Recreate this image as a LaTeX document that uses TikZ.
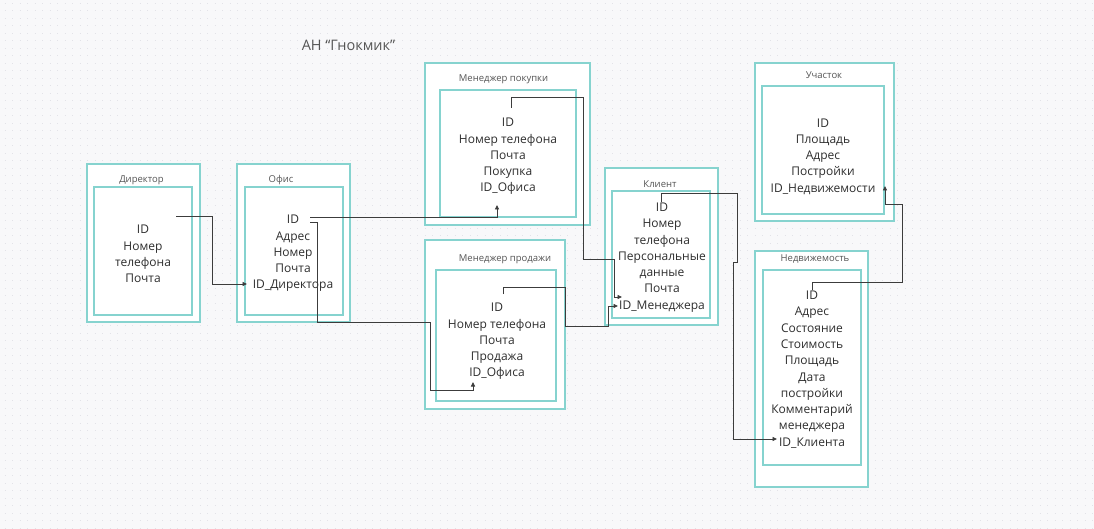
\documentclass[tikz,border=0pt]{standalone}
\usepackage{fontspec}
\setmainfont{Open Sans}
\usetikzlibrary{arrows.meta}
\definecolor{bgc}{HTML}{F8F8FA}
\definecolor{dotc}{HTML}{E2E2E8}
\definecolor{tealc}{HTML}{86D3CF}
\definecolor{linec}{HTML}{3C3C3C}
\definecolor{txtc}{HTML}{2E2E2E}
\definecolor{titc}{HTML}{555555}
\tikzset{
  outerbox/.style={draw=tealc, line width=1.1pt, fill=white, inner sep=0pt},
  innerbox/.style={draw=tealc, line width=1.1pt, fill=white, inner sep=0pt},
  fieldtext/.style={text=txtc, align=center, inner sep=0pt, font=\fontsize{12pt}{16.3pt}\selectfont},
  titletext/.style={text=titc, inner sep=0pt, font=\fontsize{9.5pt}{11pt}\selectfont},
  conn/.style={draw=linec, line width=0.9pt},
  connarr/.style={conn, -{Triangle[length=4.5pt,width=4pt]}},
}
\begin{document}
\begin{tikzpicture}[x=1pt,y=-1pt]
\useasboundingbox (0,0) rectangle (1094,529);
\fill[bgc] (0,0) rectangle (1094,529);
\foreach \yy in {0,...,70}{
  \draw[dotc, line width=1.1pt, dash pattern=on 1.1pt off 6.4pt, dash phase=0pt]
    (4.5,3.3+7.5*\yy) -- (1094,3.3+7.5*\yy);
}
% title
\node[text=titc, inner sep=0pt, font=\fontsize{14.5pt}{16pt}\selectfont] (title) at (348.5,45) {АН “Гнокмик”};

% Директор
\node[outerbox, minimum width=113pt, minimum height=158pt] (dirO) at (143.5,243) {};
\node[innerbox, minimum width=98pt, minimum height=128pt] (dirI) at (143,251) {};
\node[titletext] (dirT) at (141.5,180) {Директор};
\node[fieldtext] (dirF) at (143,254) {ID\\Номер\\телефона\\Почта};

% Офис
\node[outerbox, minimum width=113pt, minimum height=158pt] (ofO) at (293.5,243) {};
\node[innerbox, minimum width=98pt, minimum height=128pt] (ofI) at (294,251) {};
\node[titletext] (ofT) at (281,180) {Офис};
\node[fieldtext] (ofF) at (293,253.5) {ID\\Адрес\\Номер\\Почта\\ID\_Директора};

% Менеджер покупки
\node[outerbox, minimum width=165pt, minimum height=162pt] (mpO) at (507.5,144) {};
\node[innerbox, minimum width=136pt, minimum height=127pt] (mpI) at (508,153.5) {};
\node[titletext] (mpT) at (503.5,79) {Менеджер покупки};
\node[fieldtext] (mpF) at (508,156.5) {ID\\Номер телефона\\Почта\\Покупка\\ID\_Офиса};

% Менеджер продажи
\node[outerbox, minimum width=140pt, minimum height=169pt] (mprO) at (495,324.5) {};
\node[innerbox, minimum width=120pt, minimum height=131pt] (mprI) at (496,335.5) {};
\node[titletext] (mprT) at (505,259) {Менеджер продажи};
\node[fieldtext] (mprF) at (497,341.5) {ID\\Номер телефона\\Почта\\Продажа\\ID\_Офиса};

% Клиент
\node[outerbox, minimum width=113pt, minimum height=157pt] (kO) at (661.5,246.5) {};
\node[innerbox, minimum width=98pt, minimum height=127pt] (kI) at (661,254.5) {};
\node[titletext] (kT) at (660,184) {Клиент};
\node[fieldtext] (kF) at (662,257.5) {ID\\Номер\\телефона\\Персональные\\данные\\Почта\\ID\_Менеджера};

% Участок
\node[outerbox, minimum width=139pt, minimum height=158pt] (uO) at (824.5,142) {};
\node[innerbox, minimum width=122pt, minimum height=128pt] (uI) at (823,150) {};
\node[titletext] (uT) at (824,75) {Участок};
\node[fieldtext] (uF) at (823,156.5) {ID\\Площадь\\Адрес\\Постройки\\ID\_Недвижемости};

% Недвижемость
\node[outerbox, minimum width=113pt, minimum height=236pt] (nO) at (811.5,369) {};
\node[innerbox, minimum width=98pt, minimum height=195pt] (nI) at (812,367.5) {};
\node[titletext] (nT) at (815,258.5) {Недвижемость};
\node[fieldtext] (nF) at (812,369.5) {ID\\Адрес\\Состояние\\Стоимость\\Площадь\\Дата\\постройки\\Комментарий\\менеджера\\ID\_Клиента};

% connector end points
\coordinate (dirID) at (176,216);
\coordinate (ofDir) at (247,284);
\coordinate (ofID1) at (310,217);
\coordinate (ofID2) at (310,222);
\coordinate (mpOf) at (497,205);
\coordinate (mprOf) at (473,382);
\coordinate (mpID) at (511,108);
\coordinate (mprID) at (503,294);
\coordinate (kMgr1) at (622,297);
\coordinate (kMgr2) at (618,306);
\coordinate (kID) at (661,202);
\coordinate (nKl) at (777,439);
\coordinate (nID) at (812,290);
\coordinate (uNed) at (885,186);

% connectors
\draw[connarr] (dirID) -- (212,216) |- (ofDir);
\draw[connarr] (ofID1) -| (mpOf);
\draw[connarr] (ofID2) -- (317,222) -- (317,322) -- (430,322) -- (430,390) -| (mprOf);
\draw[connarr] (mpID) -- (511,97) -- (583,97) -- (583,259) -- (614,259) -- (614,297) -- (kMgr1);
\draw[connarr] (mprID) -- (503,287) -- (565,287) -- (565,326) -- (608,326) -- (608,306) -- (kMgr2);
\draw[connarr] (kID) -- (661,193) -- (737,193) -- (737,262) -- (733,262) -- (733,439) -- (nKl);
\draw[connarr] (nID) -- (812,282) -- (902,282) -- (902,204) -- (885,204) -- (uNed);
\end{tikzpicture}
\end{document}
